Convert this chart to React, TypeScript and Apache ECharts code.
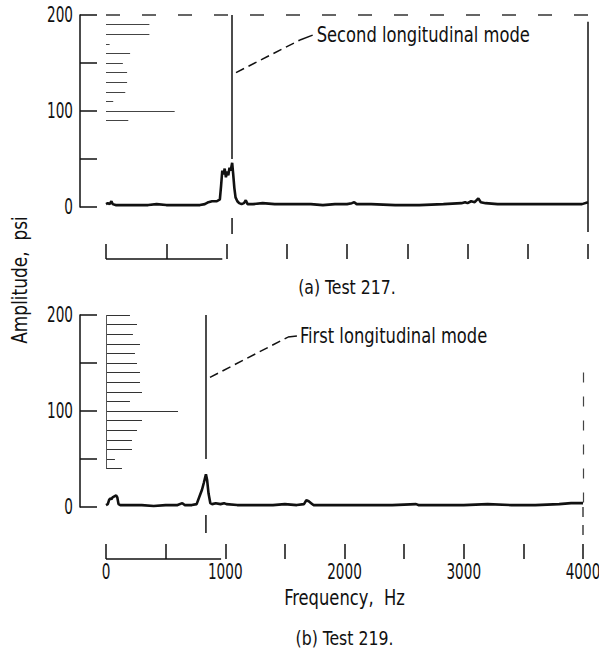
import React, { useEffect, useRef } from 'react';
import * as echarts from 'echarts';

const FONT = "'DejaVu Sans Condensed', 'Liberation Sans Narrow', sans-serif";
const INK = '#111';

// Frequency (Hz) vs amplitude (psi)
const test217: [number, number][] = [
  [0, 3], [15, 4], [30, 3], [45, 6], [55, 3], [80, 2], [150, 2], [250, 2], [350, 2], [420, 3],
  [500, 2], [600, 2], [700, 2], [780, 2], [820, 3], [850, 5], [880, 6], [920, 6], [945, 8],
  [955, 22], [965, 38], [975, 34], [985, 40], [995, 31], [1005, 37], [1015, 33], [1025, 41],
  [1035, 38], [1047, 46], [1055, 35], [1065, 20], [1075, 10], [1090, 6], [1105, 4], [1125, 3],
  [1145, 4], [1160, 7], [1175, 3], [1220, 3], [1300, 4], [1400, 3], [1500, 3], [1600, 3],
  [1700, 3], [1800, 2], [1900, 3], [2000, 3], [2040, 4], [2060, 5], [2080, 3], [2200, 3],
  [2400, 2], [2600, 2], [2800, 3], [2950, 4], [2980, 5], [3000, 4], [3030, 6], [3060, 5],
  [3090, 9], [3110, 5], [3150, 4], [3250, 3], [3400, 3], [3600, 3], [3800, 3], [3950, 3], [4000, 5],
];
const test219: [number, number][] = [
  [0, 2], [15, 3], [25, 7], [35, 9], [45, 8], [55, 10], [70, 11], [85, 12], [95, 10], [105, 3],
  [120, 2], [200, 2], [300, 2], [400, 1], [500, 2], [600, 2], [640, 4], [660, 2], [720, 2],
  [760, 3], [790, 13], [805, 18], [820, 25], [838, 34], [848, 28], [860, 14], [875, 4], [890, 3],
  [920, 4], [960, 3], [990, 4], [1010, 3], [1100, 2], [1200, 2], [1400, 2], [1500, 3], [1600, 2],
  [1660, 3], [1680, 7], [1700, 6], [1720, 4], [1740, 2], [1800, 2], [2000, 2], [2200, 2],
  [2400, 2], [2600, 3], [2620, 2], [2800, 2], [3000, 2], [3200, 3], [3400, 2], [3600, 2],
  [3800, 3], [3900, 4], [4000, 4],
];

// calibration ladder on the chart paper: level (psi) and length (Hz)
const ladder217Levels = [190, 180, 170, 160, 150, 140, 130, 120, 110, 100, 90];
const ladder217Lengths = [360, 360, 30, 200, 140, 175, 175, 160, 60, 570, 185];
const ladder219Levels = [200, 190, 180, 170, 160, 150, 140, 130, 120, 110, 100, 90, 80, 70, 60, 50, 40];
const ladder219Lengths = [201, 260, 226, 285, 243, 260, 285, 285, 302, 201, 604, 302, 260, 218, 218, 75, 134];

// tick labels
const yTickLabels = [0, 100, 200];
const xTickLabels = [0, 1000, 2000, 3000, 4000];

// mode markers
const mode217 = { freq: 1046, label: 'Second longitudinal mode', leader: [[1079, 140], [1610, 174], [1715, 179]] };
const mode219 = { freq: 838, label: 'First longitudinal mode', leader: [[872, 135], [1526, 177], [1601, 178]] };

const X_MIN = 0, X_MAX = 4000, X_STEP = 500;
const Y_MIN = 0, Y_MAX = 200, Y_STEP = 50;
const RULER_END = 965;
const X_OFFSET = 52;
const Y_OFFSET = 26;

function ladderLines(levels: number[], lengths: number[], color: string) {
  return levels.map((lv, i) => [
    { coord: [0, lv], lineStyle: { color, width: 1, type: 'solid' } },
    { coord: [lengths[i], lv] },
  ]);
}

function modeLines(m: any) {
  return [
    [{ coord: [m.freq, Y_MAX], lineStyle: { color: INK, width: 1.5, type: 'solid' } }, { coord: [m.freq, 50] }],
    [{ coord: m.leader[0], lineStyle: { color: INK, width: 1.5, type: [9, 5] } }, { coord: m.leader[1] }],
    [{ coord: m.leader[1], lineStyle: { color: INK, width: 1.5, type: 'solid' } }, { coord: m.leader[2] }],
  ];
}

function yAxis(gridIndex: number) {
  return {
    type: 'value', gridIndex, min: Y_MIN, max: Y_MAX, interval: Y_STEP, offset: Y_OFFSET,
    axisLine: { show: true, onZero: false, lineStyle: { color: INK, width: 1.5 } },
    axisTick: { show: true, inside: true, length: 17, lineStyle: { color: INK, width: 1.5 } },
    axisLabel: { show: false },
    splitLine: { show: false },
  };
}

function xAxis(gridIndex: number) {
  return {
    type: 'value', gridIndex, min: X_MIN, max: X_MAX, interval: X_STEP, position: 'bottom', offset: X_OFFSET,
    axisLine: { show: true, onZero: false, lineStyle: { color: INK, width: 1.5, opacity: 0 } },
    axisTick: { show: true, inside: true, length: 15, lineStyle: { color: INK, width: 1.5 } },
    axisLabel: { show: false },
    splitLine: { show: false },
  };
}

export default function App() {
  const ref = useRef<HTMLDivElement>(null);
  useEffect(() => {
    document.body.style.margin = '0';
    if (!ref.current) return;
    const chart = echarts.init(ref.current, null, { renderer: 'svg' });
    chart.setOption({
      animation: false,
      backgroundColor: '#fff',
      grid: [
        { left: 106, top: 15, width: 482, height: 192 },
        { left: 106, top: 315, width: 477, height: 192 },
      ],
      xAxis: [xAxis(0), xAxis(1)],
      yAxis: [yAxis(0), yAxis(1)],
      series: [
        {
          type: 'line', xAxisIndex: 0, yAxisIndex: 0, data: test217, symbol: 'none',
          lineStyle: { color: INK, width: 2.6 }, silent: true,
          markLine: {
            silent: true, symbol: ['none', 'none'], label: { show: false },
            lineStyle: { color: INK, width: 1 },
            data: [
              ...ladderLines(ladder217Levels, ladder217Lengths, '#444'),
              [{ coord: [0, Y_MAX], lineStyle: { color: '#333', width: 1.5, type: [14, 22] } }, { coord: [X_MAX, Y_MAX] }],
              [{ coord: [X_MAX, 193], lineStyle: { color: INK, width: 1.5, type: 'solid' } }, { coord: [X_MAX, 0] }],
              ...modeLines(mode217),
            ],
          },
        },
        {
          type: 'line', xAxisIndex: 1, yAxisIndex: 1, data: test219, symbol: 'none',
          lineStyle: { color: INK, width: 2.6 }, silent: true,
          markLine: {
            silent: true, symbol: ['none', 'none'], label: { show: false },
            lineStyle: { color: INK, width: 1 },
            data: [
              ...ladderLines(ladder219Levels, ladder219Lengths, '#333'),
              [{ coord: [0, Y_MAX], lineStyle: { color: '#555', width: 1, type: 'solid' } }, { coord: [0, 40] }],
              [{ coord: [X_MAX, 140], lineStyle: { color: '#444', width: 1.2, type: [10, 14] } }, { coord: [X_MAX, 0] }],
              ...modeLines(mode219),
            ],
          },
        },
      ],
    });

    const px = (g: number, x: number, y: number) => chart.convertToPixel({ gridIndex: g }, [x, y]) as number[];
    const line = (a: number[], b: number[], extra: any = {}) => ({
      type: 'line', silent: true,
      shape: { x1: a[0], y1: a[1], x2: b[0], y2: b[1] },
      style: { stroke: INK, lineWidth: 1.5, ...extra },
    });
    const text = (t: string, x: number, y: number, size: number, sx: number, align: string, extra: any = {}) => ({
      type: 'text', silent: true, x, y, scaleX: sx, ...extra,
      style: { text: t, fill: INK, font: `${size}px ${FONT}`, textAlign: align, textVerticalAlign: 'middle' },
    });
    const graphics: any[] = [];
    [0, 1].forEach((g) => {
      const o = px(g, 0, 0);
      const e = px(g, RULER_END, 0);
      graphics.push(line([o[0], o[1] + X_OFFSET], [e[0], e[1] + X_OFFSET]));
      yTickLabels.forEach((v) => {
        const p = px(g, 0, v);
        graphics.push(text(String(v), p[0] - Y_OFFSET - 7, p[1], 21, 0.72, 'right'));
      });
    });
    xTickLabels.forEach((v) => {
      const p = px(1, v, 0);
      graphics.push(text(String(v), p[0], p[1] + X_OFFSET + 13, 21, 0.72, 'center'));
    });
    // marker stubs below the baseline
    const t1 = px(0, mode217.freq, 0);
    graphics.push(line([t1[0], t1[1] + 11], [t1[0], t1[1] + 27]));
    const t2 = px(1, mode219.freq, 0);
    graphics.push(line([t2[0], t2[1] + 8], [t2[0], t2[1] + 26]));
    const r1 = px(0, X_MAX, 0);
    graphics.push(line([r1[0], r1[1]], [r1[0], r1[1] + 25]));
    const r2 = px(1, X_MAX, 0);
    graphics.push(line([r2[0], r2[1]], [r2[0], r2[1] + 32], { lineDash: [10, 8], lineWidth: 1.2 }));

    // mode labels at the end of each leader
    const l1 = px(0, mode217.leader[2][0], mode217.leader[2][1]);
    graphics.push(text(mode217.label, l1[0] + 4, l1[1], 21, 0.865, 'left'));
    const l2 = px(1, mode219.leader[2][0], mode219.leader[2][1]);
    graphics.push(text(mode219.label, l2[0] + 3, l2[1], 21, 0.865, 'left'));

    const c1 = px(0, 2000, 0);
    const c2 = px(1, 2000, 0);
    graphics.push(text('Frequency,  Hz', c2[0], 598, 21, 0.865, 'center'));
    graphics.push(text('(a) Test 217.', c1[0], 287, 19, 0.92, 'center'));
    graphics.push(text('(b) Test 219.', c2[0], 638, 19, 0.92, 'center'));
    graphics.push(text('Amplitude,  psi', 20, 280, 21, 0.9, 'center', { rotation: Math.PI / 2 }));
    chart.setOption({ graphic: graphics });

    return () => chart.dispose();
  }, []);
  return <div ref={ref} style={{ width: 599, height: 656 }} />;
}
